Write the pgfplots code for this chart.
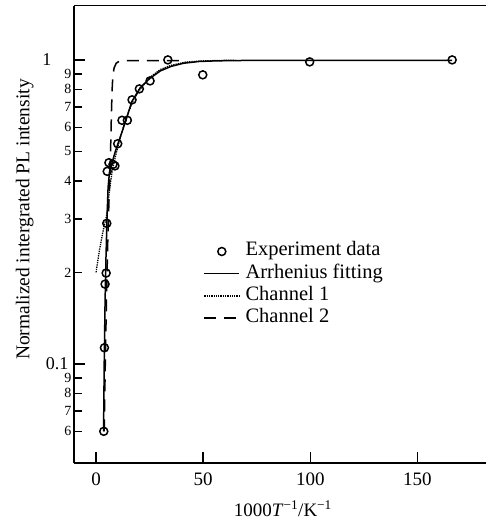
\documentclass[border=0pt]{standalone}
\usepackage{fontspec}
\setmainfont{Liberation Serif}
\usepackage{pgfplots}
\pgfplotsset{compat=1.18}
\newcommand{\lblfont}{\fontsize{19bp}{22bp}\selectfont}
\newcommand{\ylblfont}{\fontsize{19.5bp}{22bp}\selectfont}
\newcommand{\majfont}{\fontsize{18bp}{20bp}\selectfont}
\newcommand{\legfont}{\fontsize{20.5bp}{23bp}\selectfont}
\newcommand{\minfont}{\fontsize{14bp}{16bp}\selectfont}

\begin{document}
\begin{tikzpicture}
\begin{axis}[scale only axis,width=412bp,height=457.5bp,
  ymode=log,xmin=-10.3,xmax=182,ymin=0.0472,ymax=1.51,
  axis x line*=bottom,axis y line*=left,axis line style={line width=1.6bp,-},
  tick align=inside,major tick length=11bp,
  every tick/.style={line width=1.5bp,black},
  xtick={0,50,100,150},xticklabels={0,50,100,150},
  ytick={0.1,1},yticklabels={0.1,\makebox[0pt][r]{1\hspace{17bp}}},yminorticks=false,
  extra y ticks={0.06,0.07,0.08,0.09,0.2,0.3,0.4,0.5,0.6,0.7,0.8,0.9},
  extra y tick labels={6,7,8,9,2,3,4,5,6,7,8,9},
  extra y tick style={major tick length=7.5bp,yticklabel style={font=\minfont,inner xsep=2.5bp,inner ysep=0pt}},
  xticklabel style={font=\lblfont,inner sep=0pt,yshift=-9.5bp},
  yticklabel style={font=\majfont,inner xsep=5.5bp,inner ysep=0pt},
  xlabel={1000\textit{T}\textsuperscript{−1}/K\textsuperscript{−1}},
  ylabel={Normalized intergrated PL intensity},
  xlabel style={font=\lblfont,at={(axis description cs:0.507,-0.117)},anchor=base},
  ylabel style={font=\ylblfont,at={(axis description cs:-0.1085,0.532)},anchor=base,rotate=0},
  legend cell align=left,
  legend style={draw=none,fill=none,font=\legfont,at={(axis description cs:0.314,0.487)},anchor=north west,
    inner sep=0pt,row sep=0pt,column sep=3bp,
    nodes={inner xsep=2.5bp,inner ysep=2bp,text height=13.5bp,text depth=4.7bp}},
  legend image code/.code={\draw[mark repeat=2,mark phase=2,#1] plot coordinates {(0bp,0bp) (17.5bp,0bp) (35bp,0bp)};},
]
\addplot[only marks,mark=o,mark size=4bp,mark options={line width=1.5bp}] coordinates {
  (3.6,0.060) (3.9,0.113) (4.2,0.183) (4.7,0.199) (5.0,0.290)
  (5.2,0.430) (6.0,0.459) (7.9,0.453) (8.8,0.448) (10.1,0.530)
  (12.1,0.633) (14.6,0.633) (16.8,0.739) (20.2,0.803) (25.2,0.853)
  (33.5,1.000) (49.8,0.893) (99.7,0.985) (166.2,1.000)};
\addlegendentry{Experiment data}
\addplot[line width=1.5bp] coordinates {
  (3.5,0.060) (3.8,0.10) (4.2,0.16) (4.6,0.22) (5.1,0.30) (5.6,0.38)
  (6.3,0.43) (7.5,0.46) (9.0,0.50) (10.4,0.535) (12.5,0.59) (14.3,0.645)
  (16.7,0.73) (20.6,0.81) (25,0.868) (30,0.92) (35,0.952) (40.8,0.975)
  (48,0.988) (56,0.993) (70,0.996) (166.2,0.996)};
\addlegendentry{Arrhenius fitting}
\addplot[line width=1.3bp,densely dotted] coordinates {
  (0,0.20) (1.5,0.235) (3.1,0.27) (5.0,0.31) (6.2,0.37) (7.5,0.43)
  (9,0.48) (11,0.545) (13,0.61) (15,0.67) (17.5,0.74) (20.5,0.80)
  (25,0.875) (30,0.93) (35,0.96) (42,0.984) (50,0.993) (65,0.998)};
\addlegendentry{Channel 1}
\addplot[line width=1.5bp,dash pattern=on 12bp off 8bp] coordinates {
  (3.8,0.060) (4.3,0.10) (4.9,0.17) (5.5,0.26) (6.0,0.34) (6.5,0.42)
  (6.9,0.55) (7.2,0.68) (7.5,0.80) (7.8,0.88) (8.4,0.94) (9.4,0.975)
  (10.8,0.99) (12.5,0.995) (42,0.995)};
\addlegendentry{Channel 2}
\end{axis}
\draw[line width=1.6bp] (current axis.north west) -- (current axis.north east);
\path (current axis.south west) ++(-74bp,-60bp) coordinate (bbA);
\path (current axis.north east) ++(0bp,5.5bp) coordinate (bbB);
\path (bbA) rectangle (bbB);
\end{tikzpicture}
\end{document}
